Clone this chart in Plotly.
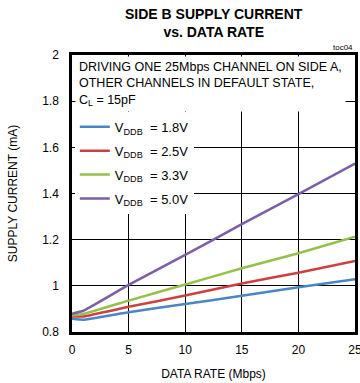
import plotly.graph_objects as go

data_rate = [0, 1, 5, 10, 15, 20, 25]
i_18 = [0.857, 0.853, 0.886, 0.921, 0.957, 0.994, 1.029]
i_25 = [0.867, 0.867, 0.909, 0.958, 1.010, 1.057, 1.108]
i_33 = [0.872, 0.878, 0.936, 1.006, 1.076, 1.141, 1.213]
i_50 = [0.879, 0.892, 1.004, 1.134, 1.267, 1.397, 1.530]

series = [
    ("V<sub>DDB</sub>  = 1.8V", i_18, "#4a86c6"),
    ("V<sub>DDB</sub>  = 2.5V", i_25, "#cc4040"),
    ("V<sub>DDB</sub>  = 3.3V", i_33, "#95c04a"),
    ("V<sub>DDB</sub>  = 5.0V", i_50, "#7b5ea6"),
]

FONT = "Liberation Sans, Arial"

fig = go.Figure()
for k, (name, ys, col) in enumerate(series):
    fig.add_trace(go.Scatter(x=data_rate, y=ys, mode="lines", name=name,
                             legendgroup=f"g{k}",
                             line=dict(color=col, width=2.5, shape="spline", smoothing=0.3)))

fig.update_layout(
    width=360, height=383,
    margin=dict(l=72, r=5, t=55, b=51, autoexpand=False),
    paper_bgcolor="white", plot_bgcolor="white",
    xaxis=dict(range=[0, 25], dtick=5, showgrid=True, gridcolor="black", gridwidth=1,
               showline=True, linecolor="black", linewidth=2.5, mirror=True,
               ticks="", zeroline=False, automargin=False, ticklabelstandoff=5,
               ticklabeloverflow="allow",
               tickfont=dict(family=FONT, size=12, color="black"),
               title=dict(text="DATA RATE (Mbps)", standoff=14,
                          font=dict(family=FONT, size=12, color="black"))),
    yaxis=dict(range=[0.8, 2.0], dtick=0.2, showgrid=True, gridcolor="black", gridwidth=1,
               showline=True, linecolor="black", linewidth=2.5, mirror=True,
               ticks="", zeroline=False, automargin=False, ticklabelstandoff=8,
               tickfont=dict(family=FONT, size=12, color="black"),
               title=dict(text="SUPPLY CURRENT (mA)", standoff=22,
                          font=dict(family=FONT, size=12, color="black"))),
    legend=dict(x=0.01, y=0.795, xanchor="left", yanchor="top",
                bgcolor="white", borderwidth=0,
                font=dict(family=FONT, size=13, color="black"),
                tracegroupgap=4),
    showlegend=True,
)

fig.add_annotation(
    xref="paper", yref="paper", x=0.5, y=1.0, xanchor="center", yanchor="bottom", yshift=13,
    text="<b>SIDE B SUPPLY CURRENT<br>vs. DATA RATE</b>",
    showarrow=False, font=dict(family=FONT, size=14, color="black"),
)
fig.add_annotation(
    xref="paper", yref="paper", x=0.01, y=0.995, xanchor="left", yanchor="top",
    text="DRIVING ONE 25Mbps CHANNEL ON SIDE A,<br>OTHER CHANNELS IN DEFAULT STATE,<br>C<sub>L</sub> = 15pF",
    showarrow=False, align="left", bgcolor="white", borderpad=3,
    font=dict(family=FONT, size=12.5, color="black"),
)
fig.add_annotation(
    xref="paper", yref="paper", x=1.0, y=1.0, xanchor="right", yanchor="bottom",
    text="toc04", showarrow=False, font=dict(family=FONT, size=8, color="black"), yshift=1,
)

fig.write_html("out.html")
